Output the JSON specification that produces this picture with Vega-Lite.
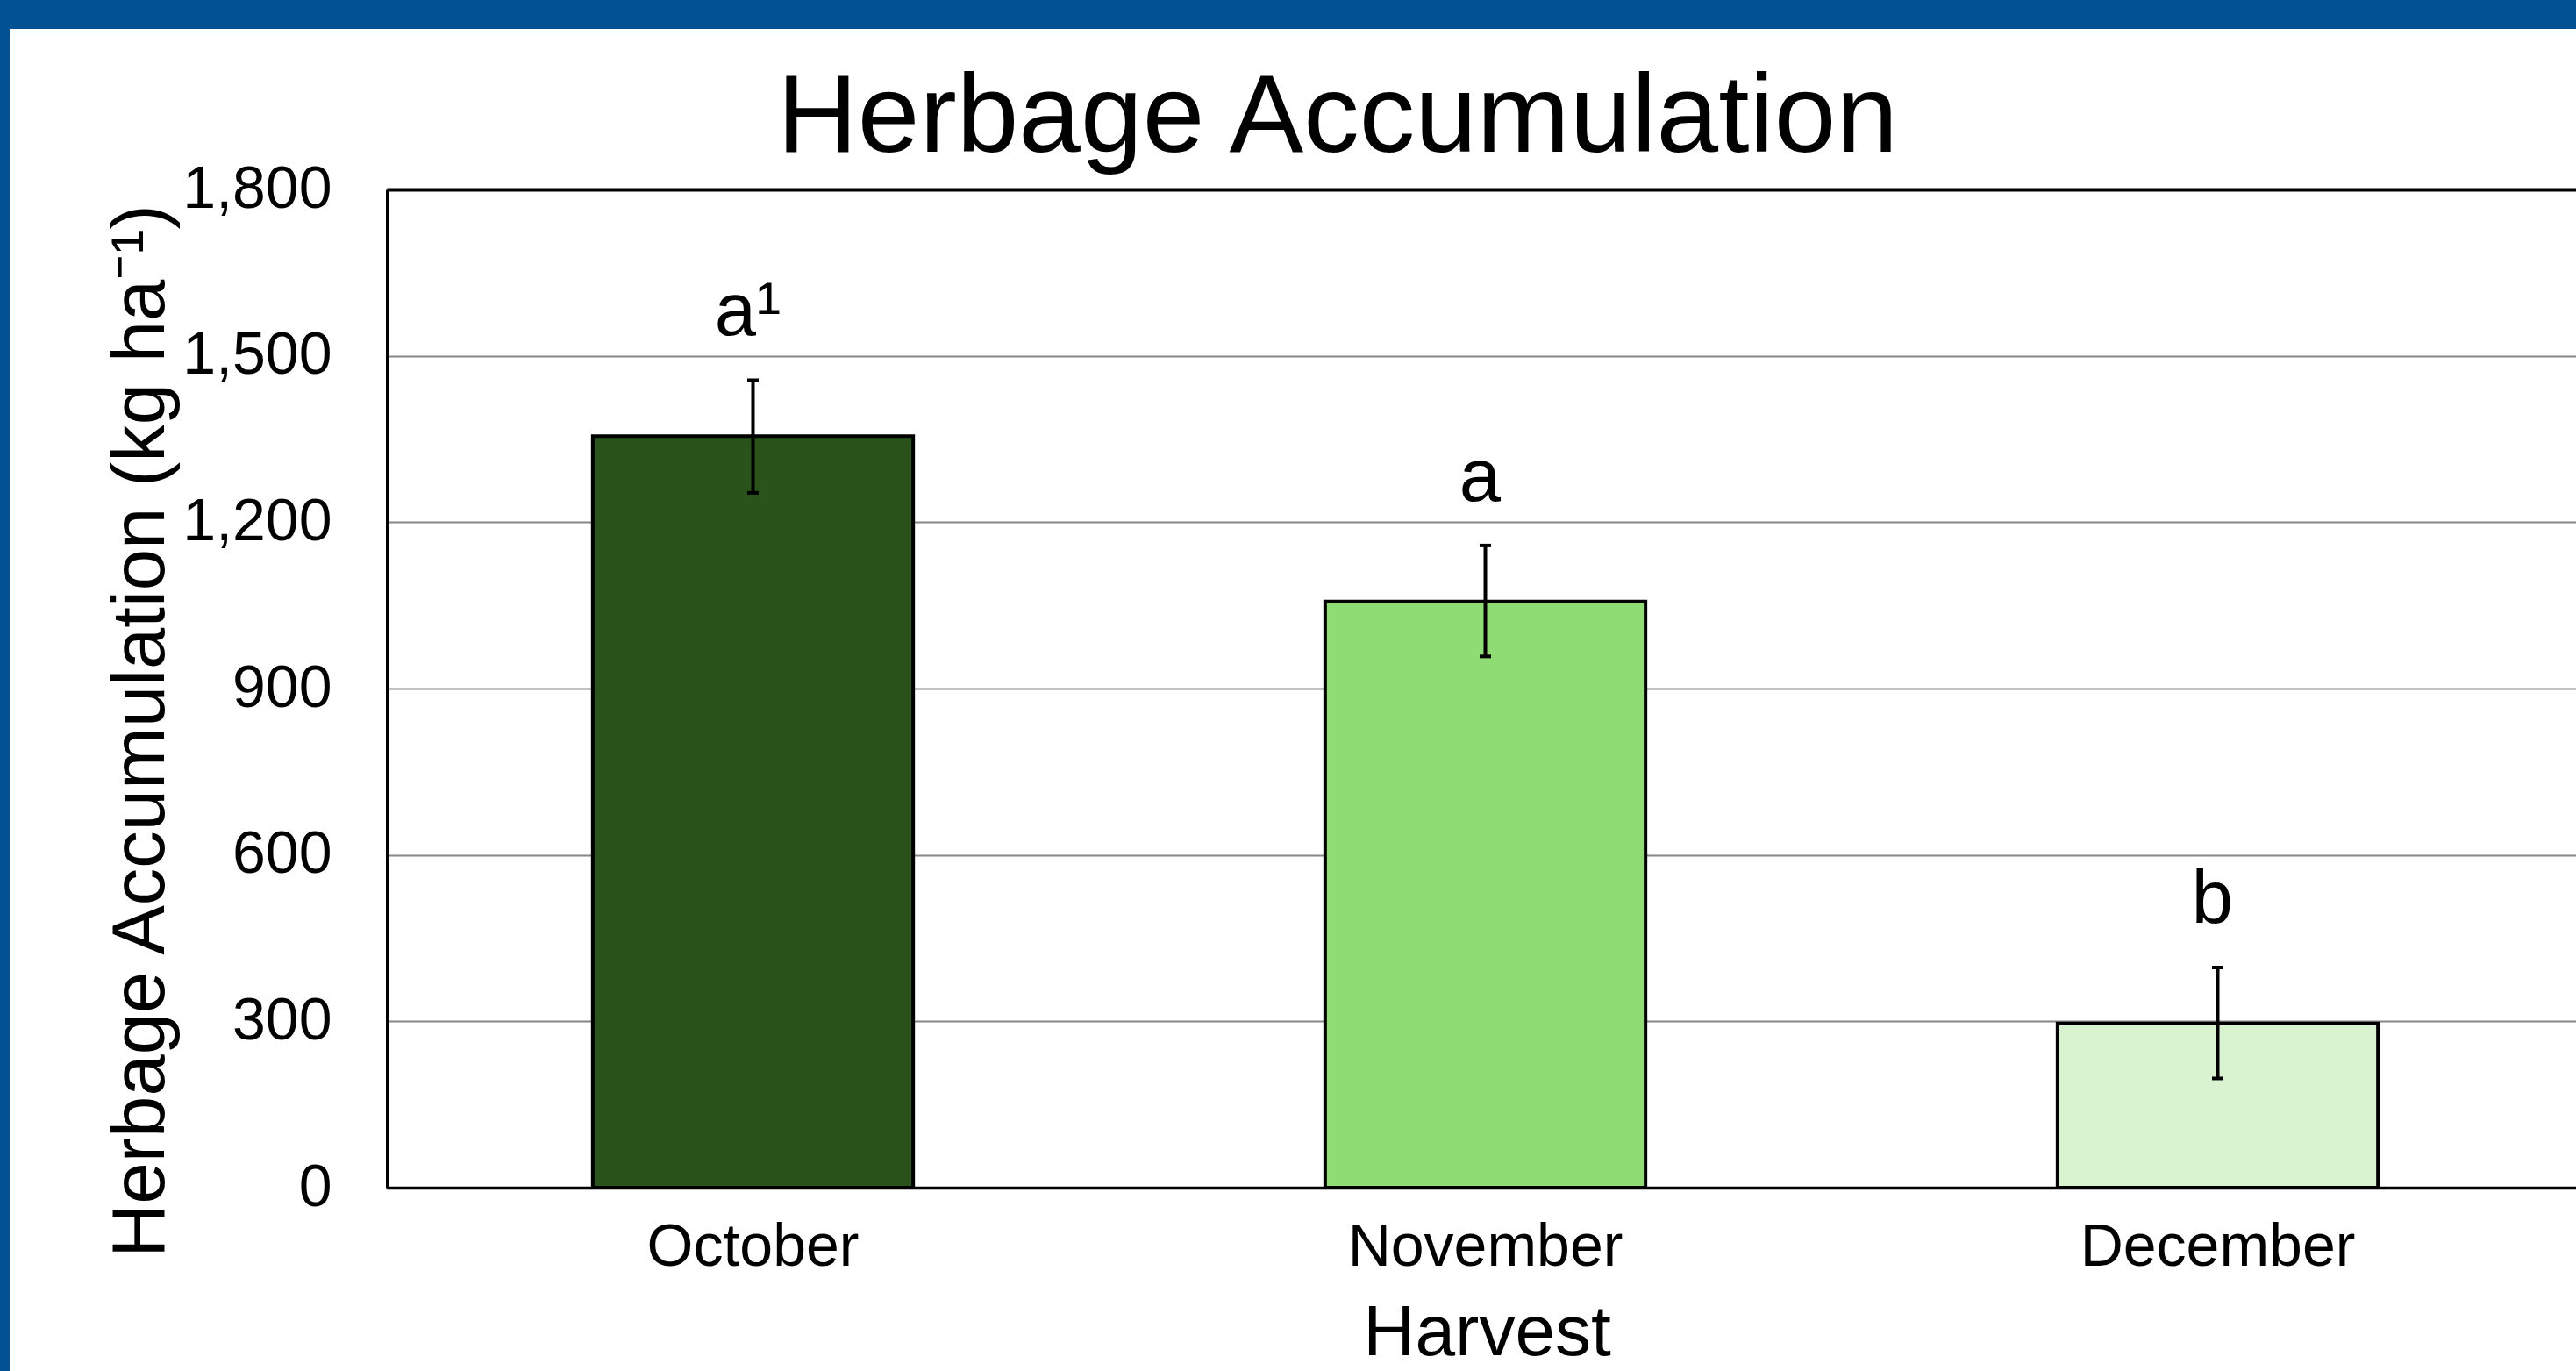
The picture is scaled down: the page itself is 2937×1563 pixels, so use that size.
{
  "$schema": "https://vega.github.io/schema/vega-lite/v6.json",
  "autosize": {"type": "none"},
  "width": 2926,
  "height": 1530,
  "padding": {"left": 11, "top": 33, "right": 0, "bottom": 0},
  "background": "#025192",
  "config": {
    "view": {"fill": "white", "stroke": null},
    "font": "Liberation Sans",
    "axis": {"labelColor": "black", "titleColor": "black", "titleFontWeight": "normal", "labelFont": "Liberation Sans", "titleFont": "Liberation Sans", "labelLimit": 0, "titleLimit": 0}
  },
  "title": {
    "text": "Herbage Accumulation",
    "fontSize": 127,
    "font": "Liberation Sans",
    "fontWeight": "normal",
    "color": "black",
    "anchor": "middle",
    "frame": "group",
    "baseline": "alphabetic",
    "offset": -267,
    "dx": 51
  },
  "data": {
    "values": [
      {"harvest": "October", "mean": 1355, "lo": 1253, "hi": 1456, "letter": "a¹"},
      {"harvest": "November", "mean": 1057, "lo": 958, "hi": 1158, "letter": "a"},
      {"harvest": "December", "mean": 296, "lo": 197, "hi": 397, "letter": "b"}
    ]
  },
  "resolve": {"axis": {"x": "independent"}},
  "layer": [
    {
      "mark": {"type": "bar", "width": {"band": 0.4375}, "stroke": "black", "strokeWidth": 4},
      "encoding": {
        "x": {
          "field": "harvest", "type": "nominal", "sort": null,
          "scale": {"range": [430, 2935], "paddingInner": 0, "paddingOuter": 0},
          "axis": {
            "orient": "bottom", "offset": -209, "title": "Harvest", "titleFontSize": 82,
            "titleX": 1684, "titleY": 190, "titleBaseline": "alphabetic", "titleAlign": "center",
            "labelFontSize": 68, "labelAngle": 0, "labelBaseline": "alphabetic", "labelPadding": 88, "labelLimit": 0,
            "ticks": false, "tickSize": 0, "grid": false,
            "domainColor": "black", "domainWidth": 3.5
          }
        },
        "y": {
          "field": "mean", "type": "quantitative",
          "title": "Herbage Accumulation  (kg ha⁻¹)",
          "scale": {"domain": [0, 1800], "range": [1321, 183], "nice": false, "zero": true},
          "axis": {
            "offset": -430, "values": [0, 300, 600, 900, 1200, 1500, 1800], "format": ",d",
            "title": "Herbage Accumulation  (kg ha⁻¹)", "titleFontSize": 85,
            "titleAngle": -90, "titleX": -255, "titleY": 800, "titleBaseline": "alphabetic", "titleAlign": "center",
            "labelFontSize": 68, "labelPadding": 63, "ticks": false, "tickSize": 0,
            "grid": true, "gridColor": "#868686", "gridWidth": 2, "gridOpacity": 1,
            "domainColor": "black", "domainWidth": 3
          }
        },
        "color": {
          "field": "harvest", "type": "nominal",
          "scale": {"domain": ["October", "November", "December"], "range": ["#29531A", "#8FDB74", "#D9F2D0"]},
          "legend": null
        }
      }
    },
    {
      "mark": {"type": "rule", "color": "black", "strokeWidth": 4},
      "encoding": {
        "x": {"field": "harvest", "type": "nominal", "sort": null, "axis": null},
        "y": {"field": "lo", "type": "quantitative", "title": "Herbage Accumulation  (kg ha⁻¹)"},
        "y2": {"field": "hi"}
      }
    },
    {
      "mark": {"type": "tick", "color": "black", "size": 13, "thickness": 4, "opacity": 1},
      "encoding": {
        "x": {"field": "harvest", "type": "nominal", "sort": null, "axis": null},
        "y": {"field": "lo", "type": "quantitative", "title": "Herbage Accumulation  (kg ha⁻¹)"}
      }
    },
    {
      "mark": {"type": "tick", "color": "black", "size": 13, "thickness": 4, "opacity": 1},
      "encoding": {
        "x": {"field": "harvest", "type": "nominal", "sort": null, "axis": null},
        "y": {"field": "hi", "type": "quantitative", "title": "Herbage Accumulation  (kg ha⁻¹)"}
      }
    },
    {
      "mark": {"type": "text", "fontSize": 85, "font": "Liberation Sans", "color": "black", "baseline": "alphabetic", "align": "center", "dy": -51, "dx": -6},
      "encoding": {
        "x": {"field": "harvest", "type": "nominal", "sort": null, "axis": null},
        "y": {"field": "hi", "type": "quantitative", "title": "Herbage Accumulation  (kg ha⁻¹)"},
        "text": {"field": "letter"}
      }
    },
    {
      "mark": {"type": "tick", "opacity": 0},
      "encoding": {
        "x": {
          "field": "harvest", "type": "nominal", "sort": null,
          "axis": {"orient": "top", "offset": -183, "labels": false, "ticks": false, "title": null, "grid": false, "domain": true, "domainColor": "black", "domainWidth": 4}
        }
      }
    }
  ]
}
